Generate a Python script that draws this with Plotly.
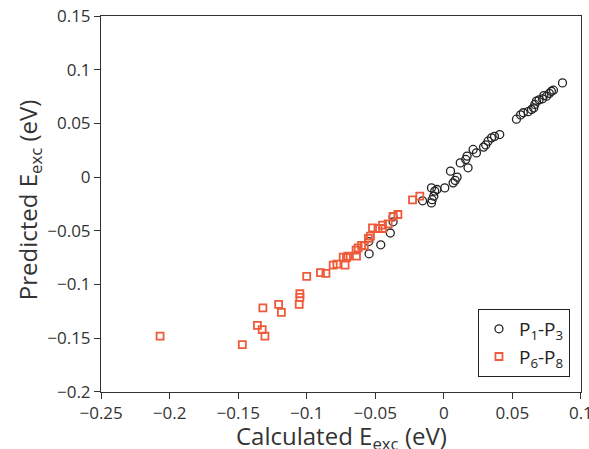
import plotly.graph_objects as go

# P1-P3 (black open circles)
p13_calc = [0.0866, 0.080, 0.0785, 0.077, 0.075, 0.073, 0.072, 0.0695, 0.0676, 0.0664,
            0.0656, 0.064, 0.0615, 0.058, 0.056, 0.053,
            0.0408, 0.037, 0.0348, 0.0323, 0.0306, 0.029, 0.0238, 0.0214, 0.017, 0.016,
            0.012, 0.0177, 0.0049, 0.0097, 0.0083, 0.0068, 0.0007, -0.005,
            -0.009, -0.0066, -0.0073, -0.0085, -0.009, -0.0155,
            -0.037, -0.037, -0.039, -0.046, -0.0545, -0.0547]
p13_pred = [0.0878, 0.081, 0.080, 0.078, 0.0754, 0.076, 0.073, 0.072, 0.0708, 0.0677,
            0.0645, 0.063, 0.061, 0.060, 0.058, 0.054,
            0.0397, 0.038, 0.0366, 0.0335, 0.030, 0.028, 0.0226, 0.0258, 0.0196, 0.0165,
            0.0133, 0.0087, 0.0056, 0.000, -0.003, -0.0053, -0.010, -0.0115,
            -0.010, -0.013, -0.0177, -0.021, -0.024, -0.022,
            -0.037, -0.0416, -0.052, -0.063, -0.0714, -0.060]

# P6-P8 (red open squares)
p68_calc = [-0.0228, -0.0175, -0.0335, -0.037, -0.0406, -0.0447, -0.0447, -0.048, -0.052,
            -0.0535, -0.055, -0.058, -0.060, -0.0625, -0.064, -0.0637, -0.070, -0.071,
            -0.0734, -0.072, -0.078, -0.0807, -0.086, -0.090, -0.100, -0.105, -0.105,
            -0.1055, -0.1205, -0.132, -0.207, -0.147, -0.136, -0.1325, -0.1305, -0.1185]
p68_pred = [-0.0211, -0.0177, -0.0348, -0.0366, -0.0435, -0.0447, -0.0478, -0.0478, -0.0472,
            -0.055, -0.057, -0.064, -0.0636, -0.0658, -0.068, -0.0736, -0.0736, -0.075,
            -0.0745, -0.082, -0.081, -0.082, -0.0897, -0.089, -0.0925, -0.1086, -0.112,
            -0.1185, -0.1185, -0.1217, -0.148, -0.156, -0.138, -0.142, -0.148, -0.126]

x_ticks = [-0.25, -0.2, -0.15, -0.1, -0.05, 0, 0.05, 0.1]
x_labels = ["−0.25", "−0.2", "−0.15", "−0.1", "−0.05", "0", "0.05", "0.1"]
y_ticks = [-0.2, -0.15, -0.1, -0.05, 0, 0.05, 0.1, 0.15]
y_labels = ["−0.2", "−0.15", "−0.1", "−0.05", "0", "0.05", "0.1", "0.15"]

red = "#ef5a3a"
ink = "#333333"

fig = go.Figure()
fig.add_trace(go.Scatter(
    x=p13_calc, y=p13_pred, mode="markers", name="P<sub>1</sub>-P<sub>3</sub>",
    marker=dict(symbol="circle-open", size=8, color="#222222", line=dict(width=1.3, color="#222222")),
))
fig.add_trace(go.Scatter(
    x=p68_calc, y=p68_pred, mode="markers", name="P<sub>6</sub>-P<sub>8</sub>",
    marker=dict(symbol="square-open", size=7, color=red, line=dict(width=1.8, color=red)),
))

axis_common = dict(
    showgrid=False, zeroline=False, showline=True, linecolor=ink, linewidth=1,
    mirror=True, ticks="outside", ticklen=6, tickcolor=ink,
    tickfont=dict(size=17, color=ink), ticklabeloverflow="allow", automargin=False,
)

fig.update_layout(
    width=589, height=449,
    margin=dict(l=101, r=8, t=16, b=57, autoexpand=False),
    paper_bgcolor="white", plot_bgcolor="white",
    font=dict(family="Open Sans", color=ink),
    showlegend=True,
    legend=dict(
        x=0.977, y=0.04, xanchor="right", yanchor="bottom",
        bordercolor="#222222", borderwidth=1, bgcolor="white",
        font=dict(size=19, color="#222222"),
        itemsizing="trace", tracegroupgap=0,
    ),
    xaxis=dict(range=[-0.2501, 0.1001], tickvals=x_ticks, ticktext=x_labels, **axis_common),
    yaxis=dict(range=[-0.2001, 0.1501], tickvals=y_ticks, ticktext=y_labels, **axis_common),
    annotations=[
        dict(text="Calculated E<sub>exc</sub> (eV)", xref="paper", yref="paper",
             x=0.5, y=-0.121, xanchor="center", yanchor="middle", showarrow=False,
             font=dict(size=24, color=ink)),
        dict(text="Predicted E<sub>exc</sub> (eV)", xref="paper", yref="paper",
             x=-0.15, y=0.51, xanchor="center", yanchor="middle", showarrow=False,
             textangle=-90, font=dict(size=24, color=ink)),
    ],
)

fig.write_html("out.html", config={"displayModeBar": False},
               post_script=("document.documentElement.style.overflow='hidden';"
                            "document.body.style.margin='0';document.body.style.overflow='hidden';"))
